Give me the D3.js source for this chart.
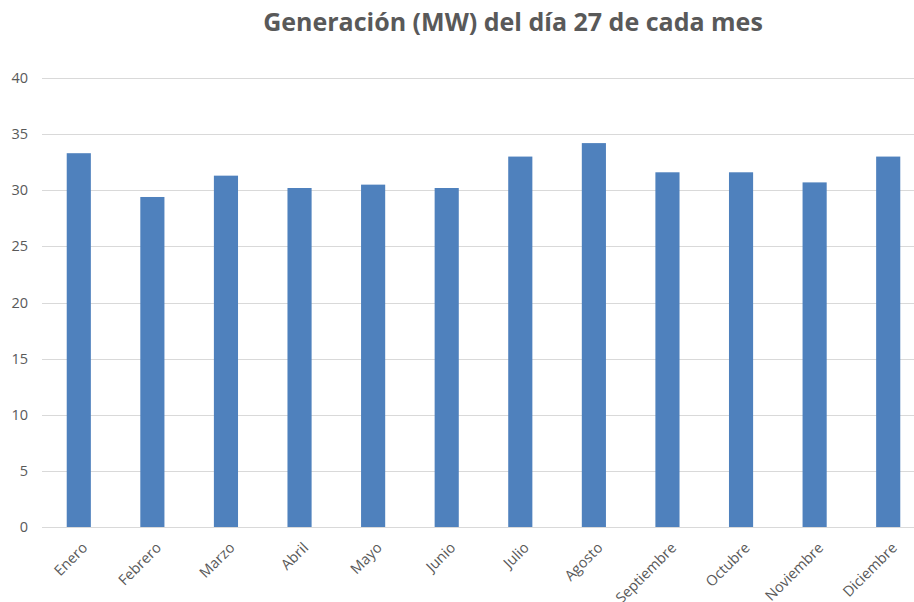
<!DOCTYPE html>
<html lang="es">
<head>
    <meta charset="UTF-8">
    <title>Generación (MW) del día 27 de cada mes</title>
    <script src="https://d3js.org/d3.v7.min.js"></script>
    <style>
        body { margin: 0; background: #fff; }
        .tick-label { font: 14.5px 'Open Sans', sans-serif; fill: #595959; }
        .title { font: bold 25px 'Open Sans', sans-serif; fill: #595959; }
        .grid line { stroke: #d9d9d9; stroke-width: 1px; }
        .bar { fill: #4f81bd; }
    </style>
</head>
<body>
    <div id="chart"></div>
    <script>
        const months = ["Enero", "Febrero", "Marzo", "Abril", "Mayo", "Junio", "Julio",
            "Agosto", "Septiembre", "Octubre", "Noviembre", "Diciembre"];
        const generation = [33.3, 29.4, 31.3, 30.2, 30.5, 30.2, 33.0, 34.2, 31.6, 31.6, 30.7, 33.0];
        const yTicks = [0, 5, 10, 15, 20, 25, 30, 35, 40];

        const width = 914, height = 602;
        const plot = {left: 42, right: 925, top: 78, bottom: 527};

        const svg = d3.select("#chart").append("svg")
            .attr("width", width)
            .attr("height", height);

        const x = d3.scaleBand()
            .domain(months)
            .range([plot.left, plot.right])
            .paddingInner(0.672)
            .paddingOuter(0.336);

        const y = d3.scaleLinear()
            .domain([0, 40])
            .range([plot.bottom, plot.top]);

        // gridlines
        svg.append("g")
            .attr("class", "grid")
            .selectAll("line")
            .data(yTicks)
            .enter()
            .append("line")
            .attr("x1", plot.left)
            .attr("x2", plot.right)
            .attr("y1", d => Math.round(y(d)) + 0.5)
            .attr("y2", d => Math.round(y(d)) + 0.5);

        // y labels
        svg.append("g")
            .selectAll("text")
            .data(yTicks)
            .enter()
            .append("text")
            .attr("class", "tick-label")
            .attr("x", 28)
            .attr("y", d => y(d))
            .attr("dy", "0.35em")
            .attr("text-anchor", "end")
            .text(d => d);

        // bars
        svg.append("g")
            .selectAll("rect")
            .data(generation)
            .enter()
            .append("rect")
            .attr("class", "bar")
            .attr("x", (d, i) => x(months[i]))
            .attr("width", x.bandwidth())
            .attr("y", d => y(d))
            .attr("height", d => y(0) - y(d));

        // month labels
        svg.append("g")
            .selectAll("text")
            .data(months)
            .enter()
            .append("text")
            .attr("class", "tick-label")
            .attr("text-anchor", "end")
            .attr("transform", d => {
                const cx = x(d) + x.bandwidth() / 2 + 2;
                return `translate(${cx},${plot.bottom + 14}) rotate(-45)`;
            })
            .attr("dy", "0.75em")
            .text(d => d);

        svg.append("text")
            .attr("class", "title")
            .attr("x", 513)
            .attr("y", 31)
            .attr("text-anchor", "middle")
            .text("Generación (MW) del día 27 de cada mes");
    </script>
</body>
</html>
